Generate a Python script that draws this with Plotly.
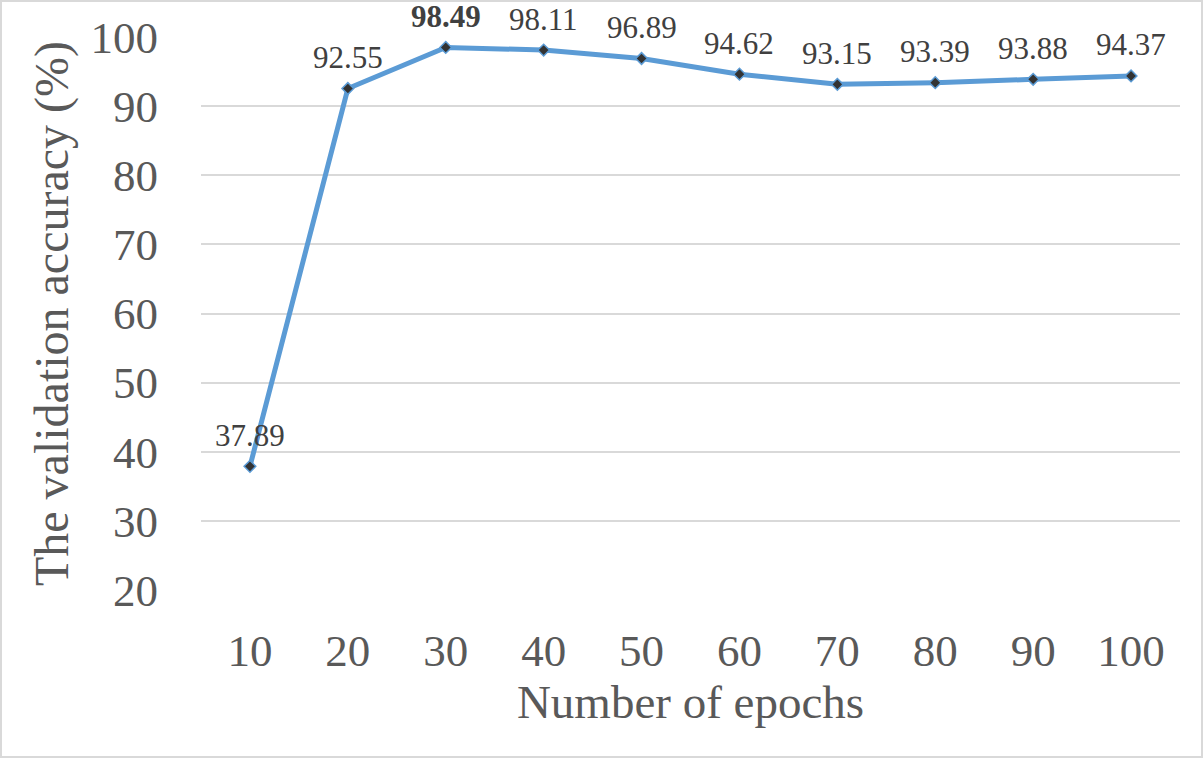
import plotly.graph_objects as go

epochs = ["10", "20", "30", "40", "50", "60", "70", "80", "90", "100"]
accuracy = [37.89, 92.55, 98.49, 98.11, 96.89, 94.62, 93.15, 93.39, 93.88, 94.37]
labels = ["37.89", "92.55", "<b>98.49</b>", "98.11", "96.89", "94.62", "93.15", "93.39", "93.88", "94.37"]

font_name = "Liberation Serif"
grey = "#595959"

fig = go.Figure()
fig.add_trace(go.Scatter(x=epochs,
                         y=accuracy,
                         mode="lines+markers",
                         line=dict(color="#5B9BD5", width=5),
                         marker=dict(symbol="diamond", size=9, color="#333333",
                                     line=dict(color="#5B9BD5", width=1.5)),
                         cliponaxis=False,
                         showlegend=False))

# data labels above each point (category axis -> annotation x is the category index)
for i, (a, t) in enumerate(zip(accuracy, labels)):
    fig.add_annotation(x=i, y=a, text=t, showarrow=False, yshift=31,
                       font=dict(family=font_name, size=31, color="#404040"))

fig.update_layout(
    width=1204, height=759,
    margin=dict(l=201, r=24, t=37, b=169),
    plot_bgcolor="white",
    paper_bgcolor="white",
    font=dict(family=font_name, color=grey),
    xaxis=dict(type="category", range=[-0.5, 9.5], showgrid=False, showline=False,
               tickfont=dict(size=45, color=grey), ticklabelstandoff=30,
               title=dict(text="Number of epochs", font=dict(size=47, color=grey), standoff=10),
               automargin=False),
    yaxis=dict(range=[20, 100], dtick=10, tick0=20, showgrid=True, gridcolor="#D9D9D9",
               gridwidth=1.5, zeroline=False, showline=False,
               tickfont=dict(size=45, color=grey), ticklabelstandoff=42,
               title=dict(text="The validation accuracy (%)", font=dict(size=48, color=grey), standoff=6),
               automargin=False),
)

# outer chart border
fig.add_shape(type="rect", xref="paper", yref="paper",
              x0=(1 - 201) / 979, x1=(1202 - 201) / 979,
              y0=(590 - 757) / 553, y1=(590 - 1) / 553,
              line=dict(color="#D9D9D9", width=2))

fig.write_html("out.html", config={"displayModeBar": False},
               post_script="document.body.style.margin='0';")
